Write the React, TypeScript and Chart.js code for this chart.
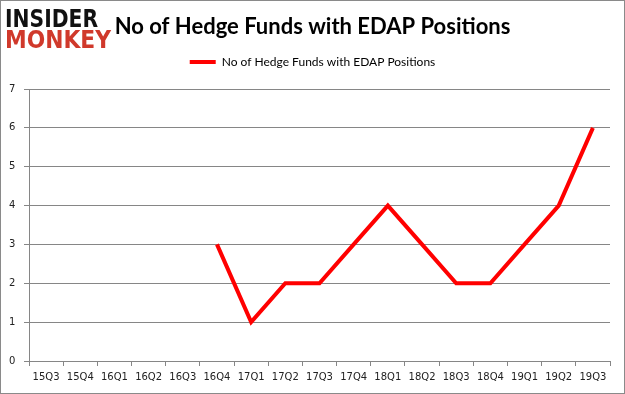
import React, { useEffect, useRef } from 'react';
import { Chart, registerables } from 'chart.js';

Chart.register(...registerables);

const categories = ['15Q3', '15Q4', '16Q1', '16Q2', '16Q3', '16Q4', '17Q1', '17Q2', '17Q3', '17Q4', '18Q1', '18Q2', '18Q3', '18Q4', '19Q1', '19Q2', '19Q3'];
const hedgeFundCounts = [null, null, null, null, null, 3, 1, 2, 2, 3, 4, 3, 2, 2, 3, 4, 6];
const yMin = 0;
const yMax = 7;
const yStep = 1;
const seriesLabel = 'No of Hedge Funds with EDAP Positions';
const chartTitle = 'No of Hedge Funds with EDAP Positions';
const logoTop = 'INSIDER';
const logoBottom = 'MONKEY';

const headerPlugin = {
  id: 'header',
  afterDraw(chart: any) {
    const ctx = chart.ctx;
    ctx.save();
    ctx.textBaseline = 'alphabetic';
    ctx.textAlign = 'left';
    ctx.font = "bold 25px 'DejaVu Sans'";
    ctx.fillStyle = '#111111';
    ctx.fillText(logoTop, 5, 27, 93);
    ctx.fillStyle = '#d0392b';
    ctx.fillText(logoBottom, 5, 48, 106);
    ctx.strokeStyle = '#8a8a8a';
    ctx.lineWidth = 1;
    ctx.strokeRect(0.5, 0.5, 624, 393);
    ctx.restore();
  },
};

export default function App() {
  const canvasRef = useRef<HTMLCanvasElement | null>(null);

  useEffect(() => {
    const canvas = canvasRef.current;
    if (!canvas) return;
    const chart = new Chart(canvas, {
      type: 'line',
      data: {
        labels: categories,
        datasets: [
          {
            label: seriesLabel,
            data: hedgeFundCounts,
            borderColor: '#ff0000',
            backgroundColor: '#ff0000',
            borderWidth: 4,
            pointRadius: 0,
            pointHoverRadius: 0,
            tension: 0,
            spanGaps: false,
            fill: false,
          },
        ],
      },
      options: {
        responsive: false,
        animation: false,
        devicePixelRatio: 1,
        layout: { padding: { top: 0, left: 15, right: 15, bottom: 0 } },
        plugins: {
          title: {
            display: true,
            text: chartTitle,
            color: '#000000',
            font: { family: 'Lato', weight: 'bold', size: 22, lineHeight: 1.2 },
            padding: { top: 14, bottom: 5.6 },
            weight: 2000,
          },
          subtitle: {
            display: true,
            text: '',
            font: { size: 1, lineHeight: 1 },
            padding: { top: 10, bottom: 0 },
            weight: 500,
          },
          legend: {
            display: true,
            position: 'top',
            weight: 1000,
            labels: {
              usePointStyle: true,
              pointStyleWidth: 26,
              padding: 10,
              color: '#222222',
              font: { family: 'Lato', size: 12 },
              generateLabels: () => [
                {
                  text: seriesLabel,
                  fillStyle: '#ff0000',
                  strokeStyle: '#ff0000',
                  lineWidth: 4,
                  pointStyle: 'line',
                  hidden: false,
                  datasetIndex: 0,
                },
              ],
            },
          },
          tooltip: { enabled: false },
        },
        scales: {
          x: {
            type: 'category',
            offset: true,
            afterFit: (scale: any) => {
              scale.height = 33;
            },
            grid: {
              offset: true,
              drawOnChartArea: false,
              drawTicks: true,
              tickLength: 5,
              color: '#868686',
            },
            border: { display: true, color: '#868686', width: 1 },
            ticks: {
              autoSkip: false,
              maxRotation: 0,
              minRotation: 0,
              padding: 5,
              color: '#222222',
              font: { family: 'DejaVu Sans', size: 10 },
            },
          },
          y: {
            min: yMin,
            max: yMax,
            afterFit: (scale: any) => {
              scale.width = 14;
            },
            grid: {
              color: '#868686',
              drawTicks: true,
              tickLength: 5,
            },
            border: { display: true, color: '#868686', width: 1 },
            ticks: {
              stepSize: yStep,
              mirror: true,
              padding: -20,
              color: '#222222',
              font: { family: 'DejaVu Sans', size: 10 },
            },
          },
        },
      },
      plugins: [headerPlugin],
    } as any);
    return () => {
      chart.destroy();
    };
  }, []);

  return (
    <div style={{ position: 'absolute', left: 0, top: 0, width: 625, height: 394, background: '#ffffff' }}>
      <canvas ref={canvasRef} width={625} height={394} style={{ display: 'block', width: 625, height: 394 }} />
    </div>
  );
}
